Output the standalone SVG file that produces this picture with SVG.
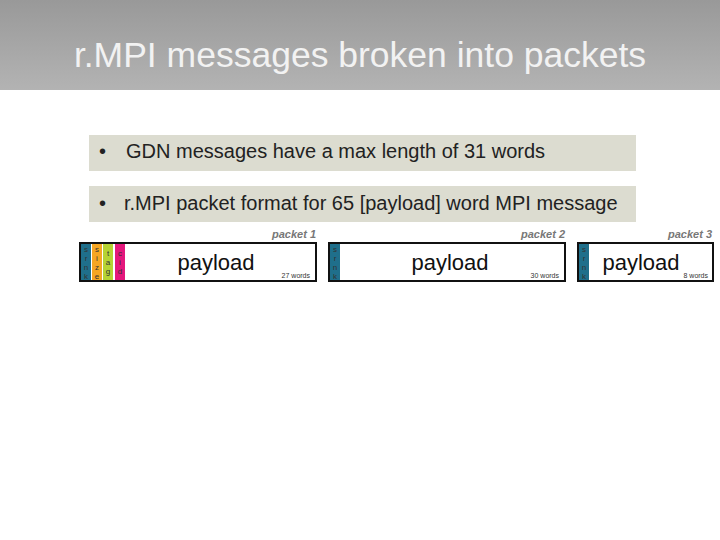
<svg xmlns="http://www.w3.org/2000/svg" width="720" height="540" viewBox="0 0 720 540">
<defs>
<linearGradient id="hdr" x1="0" y1="0" x2="0" y2="1">
<stop offset="0" stop-color="#999999"/>
<stop offset="1" stop-color="#b3b3b3"/>
</linearGradient>
</defs>
<style>
.t{font-family:"Liberation Sans",Arial,sans-serif}
.bul{fill:#dcdcd0}
.bt{font-size:20px;fill:#222}
.pk{fill:#fff;stroke:#111;stroke-width:2}
.pl{font-size:22px;fill:#111;text-anchor:middle}
.wd{font-size:7px;fill:#333;text-anchor:end}
.lab{font-size:11px;font-weight:bold;font-style:italic;fill:#777;text-anchor:end}
.ch{font-size:8px;fill:#333;text-anchor:middle}
</style>
<rect width="720" height="540" fill="#fff"/>
<rect width="720" height="90" fill="url(#hdr)"/>
<text class="t" x="360" y="67" font-size="35.5" fill="#f2f2f2" text-anchor="middle">r.MPI messages broken into packets</text>
<g id="bullet1">
<rect class="bul" x="89" y="135" width="547" height="36"/>
<text class="t bt" x="99" y="158" font-size="18">•</text>
<text class="t bt" x="126" y="158">GDN messages have a max length of 31 words</text>
</g>
<g id="bullet2">
<rect class="bul" x="89" y="186" width="547" height="36"/>
<text class="t bt" x="99" y="210" font-size="18">•</text>
<text class="t bt" x="124" y="210">r.MPI packet format for 65 [payload] word MPI message</text>
</g>
<g id="packet1">
<text class="t lab" x="316" y="238">packet 1</text>
<rect class="pk" x="80" y="243" width="236" height="38"/>
<rect x="81" y="244" width="10" height="36" fill="#1f6f8b"/>
<rect x="92" y="244" width="10" height="36" fill="#f5a623"/>
<rect x="103" y="244" width="10" height="36" fill="#b6d333"/>
<rect x="115" y="244" width="10" height="36" fill="#e4177c"/>
<text class="t ch" x="86" y="252">s</text><text class="t ch" x="86" y="261">r</text><text class="t ch" x="86" y="270">n</text><text class="t ch" x="86" y="279">k</text>
<text class="t ch" x="97" y="252">s</text><text class="t ch" x="97" y="261">i</text><text class="t ch" x="97" y="270">z</text><text class="t ch" x="97" y="279">e</text>
<text class="t ch" x="108" y="256">t</text><text class="t ch" x="108" y="265">a</text><text class="t ch" x="108" y="274">g</text>
<text class="t ch" x="120" y="256">c</text><text class="t ch" x="120" y="265">i</text><text class="t ch" x="120" y="274">d</text>
<text class="t pl" x="216" y="270">payload</text>
<text class="t wd" x="310" y="278">27 words</text>
</g>
<g id="packet2">
<text class="t lab" x="565" y="238">packet 2</text>
<rect class="pk" x="329" y="243" width="236" height="38"/>
<rect x="330" y="244" width="10" height="36" fill="#1f6f8b"/>
<text class="t ch" x="335" y="252">s</text><text class="t ch" x="335" y="261">r</text><text class="t ch" x="335" y="270">n</text><text class="t ch" x="335" y="279">k</text>
<text class="t pl" x="450" y="270">payload</text>
<text class="t wd" x="559" y="278">30 words</text>
</g>
<g id="packet3">
<text class="t lab" x="712" y="238">packet 3</text>
<rect class="pk" x="578" y="243" width="135" height="38"/>
<rect x="579" y="244" width="10" height="36" fill="#1f6f8b"/>
<text class="t ch" x="584" y="252">s</text><text class="t ch" x="584" y="261">r</text><text class="t ch" x="584" y="270">n</text><text class="t ch" x="584" y="279">k</text>
<text class="t pl" x="641" y="270">payload</text>
<text class="t wd" x="708" y="278">8 words</text>
</g>
<g id="connectors"/>
</svg>
